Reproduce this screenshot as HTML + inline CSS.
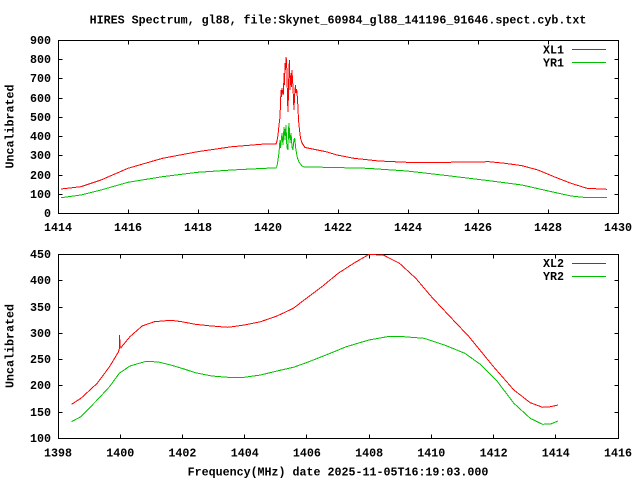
<!DOCTYPE html>
<html><head><meta charset="utf-8"><style>
html,body{margin:0;padding:0;background:#fff;}
svg{display:block;}
text{font-family:"Liberation Mono",monospace;font-weight:bold;font-size:11.67px;fill:#000;}
</style></head><body>
<svg width="640" height="480" viewBox="0 0 640 480" xmlns="http://www.w3.org/2000/svg" shape-rendering="crispEdges">
<rect x="0" y="0" width="640" height="480" fill="#fff"/>
<text x="338" y="23.5" text-anchor="middle">HIRES Spectrum, gl88, file:Skynet_60984_gl88_141196_91646.spect.cyb.txt</text>

<!-- TOP PLOT -->
<g stroke="#000" stroke-width="1" fill="none">
<rect x="58.5" y="40.5" width="560" height="173"/>
<path d="M58.5 194.5h4M58.5 175.5h4M58.5 155.5h4M58.5 136.5h4M58.5 117.5h4M58.5 98.5h4M58.5 78.5h4M58.5 59.5h4
M618.5 194.5h-4M618.5 175.5h-4M618.5 155.5h-4M618.5 136.5h-4M618.5 117.5h-4M618.5 98.5h-4M618.5 78.5h-4M618.5 59.5h-4
M128.5 213.5v-4M198.5 213.5v-4M268.5 213.5v-4M338.5 213.5v-4M408.5 213.5v-4M478.5 213.5v-4M548.5 213.5v-4
M128.5 40.5v4M198.5 40.5v4M268.5 40.5v4M338.5 40.5v4M408.5 40.5v4M478.5 40.5v4M548.5 40.5v4"/>
</g>
<g text-anchor="end">
<text x="51" y="217">0</text>
<text x="51" y="198">100</text>
<text x="51" y="179">200</text>
<text x="51" y="159">300</text>
<text x="51" y="140">400</text>
<text x="51" y="121">500</text>
<text x="51" y="102">600</text>
<text x="51" y="82">700</text>
<text x="51" y="63">800</text>
<text x="51" y="44">900</text>
</g>
<g text-anchor="middle">
<text x="58" y="231">1414</text>
<text x="128" y="231">1416</text>
<text x="198" y="231">1418</text>
<text x="268" y="231">1420</text>
<text x="338" y="231">1422</text>
<text x="408" y="231">1424</text>
<text x="478" y="231">1426</text>
<text x="548" y="231">1428</text>
<text x="618" y="231">1430</text>
</g>
<text transform="translate(13.5,126.5) rotate(-90)" text-anchor="middle">Uncalibrated</text>
<text x="564" y="53.5" text-anchor="end">XL1</text>
<text x="564" y="66.5" text-anchor="end">YR1</text>
<line x1="572" y1="49.5" x2="606" y2="49.5" stroke="#ff0000"/>
<line x1="572" y1="62.5" x2="606" y2="62.5" stroke="#00c000"/>

<polyline fill="none" stroke="#ff0000" stroke-width="1" points="61,189 81,186.7 101,180 128,168.3 162.5,158.3 197.6,151.7 232,146.7 264.5,144 276,144 277,141 278,135 279,125 280,117 281,90 281.5,97 282,88 283,95 283.5,93 284,73 284.5,85 285,63 285.5,70 286,57 286.5,60 287,75 287.5,100 288,112 288.5,90 289,67 289.5,60 290,90 290.5,80 291,73 291.5,87 292,70 292.5,80 293,87 293.5,100 294,110 294.5,97 295,90 295.5,85 296,93 296.5,89 297,92 297.5,100 298,108 298.5,120 299.5,130 300.5,138 302,143 305,147.5 315,149.5 326,151.7 337,155 354,158.3 379,161 407,162.3 448,162.3 489,161.7 505,163.3 522,165.7 538,170 554,176.7 571,183.3 587,188.3 607,189.3"/>
<polyline fill="none" stroke="#00c000" stroke-width="1" points="61,197.7 81,195 101,190 128,182.3 162.5,176.7 197.6,172.3 232,170 264.5,168.3 276,168 277,166 278,160 279,153 280,140 280.5,148 281,143 282,133 282.5,140 283,145 284,127 284.5,131 285,140 286,125 286.5,140 287,148 288,150 288.5,130 289,123 290,143 290.5,137 291,133 292,147 293,150 293.5,143 294.5,138 295,140 295.5,147 296.5,153 297.5,158 299,162 300.5,164 302,166 304,167 326,167.3 367,168.3 407,171 448,175.7 489,180.7 522,185 547,190.7 571,196 587,197.7 607,197.7"/>

<!-- BOTTOM PLOT -->
<g stroke="#000" stroke-width="1" fill="none">
<rect x="58.5" y="254.5" width="560" height="184"/>
<path d="M58.5 412.5h4M58.5 385.5h4M58.5 359.5h4M58.5 333.5h4M58.5 307.5h4M58.5 280.5h4
M618.5 412.5h-4M618.5 385.5h-4M618.5 359.5h-4M618.5 333.5h-4M618.5 307.5h-4M618.5 280.5h-4
M120.5 438.5v-4M182.5 438.5v-4M244.5 438.5v-4M306.5 438.5v-4M369.5 438.5v-4M431.5 438.5v-4M493.5 438.5v-4M555.5 438.5v-4
M120.5 254.5v4M182.5 254.5v4M244.5 254.5v4M306.5 254.5v4M369.5 254.5v4M431.5 254.5v4M493.5 254.5v4M555.5 254.5v4"/>
</g>
<g text-anchor="end">
<text x="51" y="442">100</text>
<text x="51" y="416">150</text>
<text x="51" y="389">200</text>
<text x="51" y="363">250</text>
<text x="51" y="337">300</text>
<text x="51" y="311">350</text>
<text x="51" y="284">400</text>
<text x="51" y="258">450</text>
</g>
<g text-anchor="middle">
<text x="58" y="456.5">1398</text>
<text x="120.2" y="456.5">1400</text>
<text x="182.4" y="456.5">1402</text>
<text x="244.7" y="456.5">1404</text>
<text x="306.9" y="456.5">1406</text>
<text x="369.1" y="456.5">1408</text>
<text x="431.3" y="456.5">1410</text>
<text x="493.6" y="456.5">1412</text>
<text x="555.8" y="456.5">1414</text>
<text x="618" y="456.5">1416</text>
</g>
<text transform="translate(13.5,346) rotate(-90)" text-anchor="middle">Uncalibrated</text>
<text x="338" y="475.5" text-anchor="middle">Frequency(MHz) date 2025-11-05T16:19:03.000</text>
<text x="564" y="267" text-anchor="end">XL2</text>
<text x="564" y="280" text-anchor="end">YR2</text>
<line x1="572" y1="263.5" x2="606" y2="263.5" stroke="#ff0000"/>
<line x1="572" y1="276.5" x2="606" y2="276.5" stroke="#00c000"/>

<polyline fill="none" stroke="#ff0000" stroke-width="1" points="71.5,404.3 80.9,398.3 97.2,383.3 109.5,366.7 118.5,351.7 119.3,349 119.6,335 120,346 121,348 121.7,346.7 129.9,336.7 142.1,326 154.4,321.7 170.7,320.3 181.8,321.7 195.3,324.3 211.6,326 227.9,327.3 244.3,325 260.6,321.7 277,316 293.3,308.3 306.4,298.3 321.9,286.7 338.2,273.3 354.6,262.7 368.9,254.5 383.2,255 399.5,263.3 415.8,278.3 431.4,296.7 448.5,315 469,336.7 493.5,366.7 513.9,390 530.2,402.7 542.5,407.3 550.7,406.7 558,405"/>
<polyline fill="none" stroke="#00c000" stroke-width="1" points="71.5,421.7 80.9,416.7 97.2,400 109.5,386.7 119.3,373.3 129.9,366 146.2,361.3 158.5,362 170.7,365 181.8,368.3 195.3,372.7 211.6,376 227.9,377.3 244.3,377.3 260.6,375 277,371 293.3,367.3 306.4,362.7 326,355 346.4,346.7 368.9,340 387.3,336.7 403.6,336.7 424,338.3 444.4,345 464.9,353.3 481.2,365 497.5,381.7 513.9,403.3 530.2,418.3 542.5,424.3 550.7,424 558,421"/>
</svg>
</body></html>
